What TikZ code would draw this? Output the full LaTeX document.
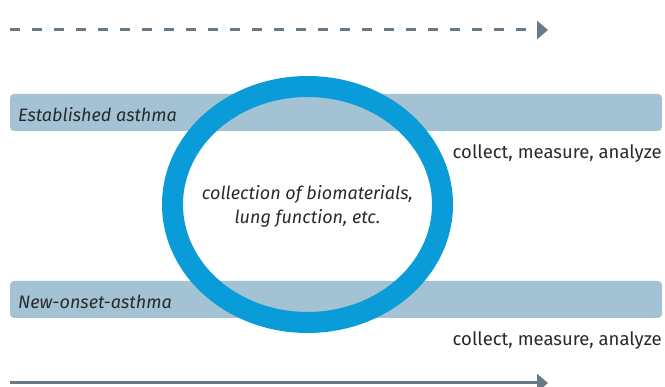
\documentclass[tikz,border=0pt]{standalone}
\usepackage{fontspec}
\setmainfont{Fira Sans}
\usetikzlibrary{shapes}
\usetikzlibrary{positioning}
\usetikzlibrary{arrows.meta}
\definecolor{barblue}{HTML}{A3C2D3}
\definecolor{ringblue}{HTML}{0A9CD8}
\definecolor{timegray}{HTML}{687A88}
\definecolor{inkgray}{HTML}{2A2A2A}
\tikzset{
    phase/.style = {rectangle, draw=none, fill=barblue, rounded corners=4pt, minimum width=652pt, minimum height=37pt, inner sep=0pt},
    phasetext/.style = {anchor=base west, inner sep=0pt, text=inkgray, font=\fontsize{18}{21}\selectfont\itshape},
    steps/.style = {anchor=base east, inner sep=0pt, text=inkgray, font=\fontsize{18.5}{21}\selectfont},
    ringtext/.style = {inner sep=0pt, align=center, text=inkgray, font=\fontsize{18}{24}\selectfont\itshape},
    ring/.style = {draw=ringblue, line width=21pt},
    timeline/.style = {-{Triangle[length=11pt,width=18pt]}, line width=3pt, timegray},
    timelined/.style = {timeline, dash pattern=on 10pt off 12pt}, % planned
}

\begin{document}
\begin{tikzpicture}[x=1pt,y=-1pt]
\path[use as bounding box] (0,0) rectangle (665,387);
%
\coordinate (ta) at (10,30);
\coordinate (tb) at (548,30);
\coordinate (sa) at (10,383);
\coordinate (sb) at (548,383);
%
\node[phase] at (336,112.5) (est) {};
\node[phase] at (336,299.5) (new) {};
\node[phasetext] at (18,122) (estl) {Established asthma};
\node[phasetext] at (18,309) (newl) {New-onset-asthma};
\node[steps] at (662,159) (este) {collect, measure, analyze};
\node[steps] at (662,346) (newe) {collect, measure, analyze};
%
\node[ringtext] at (307.5,206) (bio) {collection of biomaterials,\\lung function, etc.};
\draw[ring] (307.5,204.5) ellipse [x radius=135pt, y radius=118pt];
%
\draw[timelined] (ta) -- (tb);
\draw[timeline] (sa) -- (sb);

\end{tikzpicture}
\end{document}
